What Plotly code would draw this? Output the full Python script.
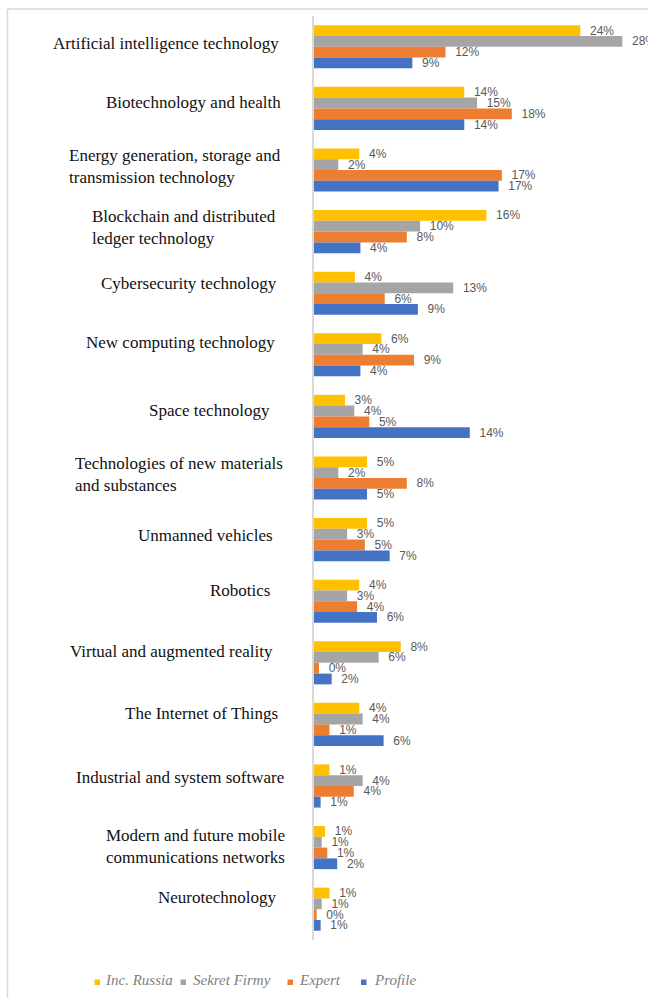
import plotly.graph_objects as go

# Technology areas covered by the four business media outlets (share of publications, %)
categories = [
    "Artificial intelligence technology",
    "Biotechnology and health",
    "Energy generation, storage and<br>transmission technology",
    "Blockchain and distributed<br>ledger technology",
    "Cybersecurity technology",
    "New computing technology",
    "Space technology",
    "Technologies of new materials<br>and substances",
    "Unmanned vehicles",
    "Robotics",
    "Virtual and augmented reality",
    "The Internet of Things",
    "Industrial and system software",
    "Modern and future mobile<br>communications networks",
    "Neurotechnology",
]

series_names = ["Inc. Russia", "Sekret Firmy", "Expert", "Profile"]

inc_russia = [24.1, 13.6, 4.1, 15.6, 3.7, 6.1, 2.8, 4.8, 4.8, 4.1, 7.85, 4.1, 1.4, 1.0, 1.4]
sekret_firmy = [27.9, 14.75, 2.2, 9.6, 12.6, 4.4, 3.65, 2.2, 3.0, 3.0, 5.85, 4.4, 4.4, 0.7, 0.7]
expert = [11.9, 17.9, 17.0, 8.4, 6.4, 9.05, 5.0, 8.4, 4.6, 3.9, 0.45, 1.4, 3.6, 1.2, 0.24]
profile = [8.9, 13.6, 16.7, 4.2, 9.4, 4.2, 14.1, 4.8, 6.85, 5.7, 1.6, 6.3, 0.6, 2.1, 0.6]

series_values = [inc_russia, sekret_firmy, expert, profile]
colors = ["#FFC000", "#A5A5A5", "#ED7D31", "#4472C4"]

# ---- page geometry (pixels) ----
W, H = 648, 998
ML, MR, MT, MB = 314, 0, 16, 58
PW, PH = W - ML - MR, H - MT - MB
PX_PER_PCT = 11.05


def px_x(px):
    return (px - ML) / PW


def px_y(py):
    return (H - MB - py) / PH


# per-label placement of the category names: right edge (px) and upward shift (px)
label_right = [281, 283, 283, 278, 279, 277, 272, 285, 275, 272, 275, 280, 286, 287, 279]
label_lift = [3, 6, 4, 4, 10, 12, 6, 4, 4, 11, 11, 11, 9, 1, 12]

fig = go.Figure()

for name, vals, col in zip(series_names, series_values, colors):
    fig.add_trace(go.Bar(
        y=categories,
        x=vals,
        name=name,
        orientation="h",
        marker=dict(color=col, line=dict(width=0)),
        texttemplate="\u00a0\u00a0%{x:.0f}%",
        textposition="outside",
        constraintext="none",
        cliponaxis=False,
        textfont=dict(family="Liberation Sans, Arial, sans-serif", size=12, color="#595959"),
        showlegend=False,
        hoverinfo="skip",
    ))

annotations = []
for cat, rx, lift in zip(categories, label_right, label_lift):
    annotations.append(dict(
        x=px_x(rx), xref="paper", xanchor="right",
        y=cat, yref="y", yanchor="middle", yshift=lift,
        text=cat, showarrow=False, align="left",
        font=dict(family="Liberation Serif, Times New Roman, serif", size=17, color="#111111"),
    ))

# legend row: small square keys and italic series names
legend_square_x = [94.5, 180.5, 287.5, 361]
legend_text_x = [103, 190.5, 297, 372]
shapes = []
for sx, tx, name, col in zip(legend_square_x, legend_text_x, series_names, colors):
    shapes.append(dict(
        type="rect", xref="paper", yref="paper",
        x0=px_x(sx), x1=px_x(sx + 5.5), y0=px_y(985), y1=px_y(979.5),
        fillcolor=col, line=dict(width=0),
    ))
    annotations.append(dict(
        x=px_x(tx), xref="paper", xanchor="left",
        y=px_y(979.5), yref="paper", yanchor="middle",
        text=name, showarrow=False,
        font=dict(family="Liberation Serif, Times New Roman, serif", size=15,
                  color="#7F7F7F", style="italic"),
    ))

# outer frame: top and left rules
shapes.append(dict(type="line", xref="paper", yref="paper",
                   x0=px_x(7.5), x1=px_x(W + 2), y0=px_y(9), y1=px_y(9),
                   line=dict(color="#D9D9D9", width=1.5)))
shapes.append(dict(type="line", xref="paper", yref="paper",
                   x0=px_x(7.5), x1=px_x(7.5), y0=px_y(9), y1=px_y(H + 2),
                   line=dict(color="#D9D9D9", width=1.5)))

fig.update_layout(
    width=W, height=H,
    margin=dict(l=ML, r=MR, t=MT, b=MB, pad=0),
    paper_bgcolor="white", plot_bgcolor="white",
    barmode="group", bargap=0.30, bargroupgap=0,
    showlegend=False,
    annotations=annotations,
    shapes=shapes,
    xaxis=dict(range=[0, PW / PX_PER_PCT], visible=False, fixedrange=True),
    yaxis=dict(autorange="reversed", showticklabels=False, ticks="",
               showgrid=False, zeroline=False,
               showline=True, linecolor="#D9D9D9", linewidth=1.5,
               fixedrange=True),
)

fig.write_html("out.html")
